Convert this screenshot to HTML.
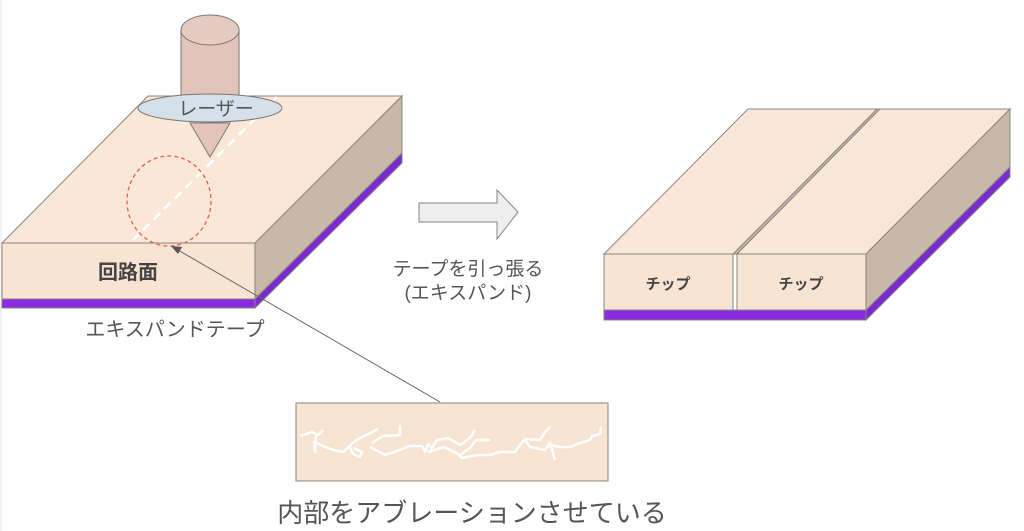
<!DOCTYPE html>
<html><head><meta charset="utf-8"><style>
html,body{margin:0;padding:0;background:#fff;}
svg{display:block;}
text{font-family:"Liberation Sans","Noto Sans CJK JP",sans-serif;}
</style></head><body>
<svg width="1024" height="531" viewBox="0 0 1024 531" xmlns="http://www.w3.org/2000/svg">
<line x1="1" y1="0" x2="1" y2="531" stroke="#e6e6e6" stroke-width="1"/>
<g stroke="#8a8480" stroke-width="1">
<polygon points="2,243 255,243 402,96 148,96" fill="#f9e8d8"/>
<polygon points="255,243 402,96 402,153 255,299" fill="#c8b8a8"/>
<rect x="2" y="243" width="253" height="56" fill="#f7e4d2"/>
<polygon points="255,299 402,153 402,163 255,308" fill="#7a2ad0"/>
<rect x="2" y="299" width="253" height="9" fill="#8a2be2"/>
</g>
<line x1="277" y1="97" x2="133" y2="240" stroke="#fff" stroke-width="2.5" stroke-dasharray="9,6"/>
<ellipse cx="169" cy="201" rx="42" ry="45" fill="none" stroke="#e8604a" stroke-width="1.3" stroke-dasharray="4,3"/>
<g stroke="#7f7672" stroke-width="1">
<path d="M181,30 L181,96 L239,96 L239,30" fill="#e2c4ba"/>
<ellipse cx="210" cy="30" rx="29" ry="15" fill="#e6cbc2"/>
<ellipse cx="210" cy="108" rx="72" ry="14" fill="#d4e0ea"/>
<polygon points="190,123 230,123 210,157" fill="#e2c4ba"/>
</g>
<text x="216" y="115" font-size="19" fill="#555" text-anchor="middle">レーザー</text>
<text x="128" y="279" font-size="20" font-weight="bold" fill="#444" text-anchor="middle">回路面</text>
<text x="175" y="336" font-size="20" fill="#555" text-anchor="middle">エキスパンドテープ</text>
<line x1="440" y1="402" x2="178" y2="250" stroke="#666" stroke-width="1"/>
<polygon points="171,246 182,247 178,254" fill="#555"/>
<polygon points="419,203 497,203 497,190 518,212 497,239 497,222 419,222" fill="#eeeeee" stroke="#8a8480" stroke-width="1"/>
<text x="468" y="275" font-size="19" fill="#555" text-anchor="middle">テープを引っ張る</text>
<text x="468" y="299" font-size="19" fill="#555" text-anchor="middle">(エキスパンド)</text>
<g stroke="#8a8480" stroke-width="1">
<polygon points="866,310 1010,167 1010,177 866,320" fill="#7a2ad0"/>
<rect x="604" y="310" width="262" height="10" fill="#8a2be2"/>
<polygon points="733,254 877,109 880,109 737,254" fill="#c8b8a8"/>
<polygon points="604,254 733,254 877,109 748,109" fill="#f9e8d8"/>
<rect x="604" y="254" width="129" height="56" fill="#f7e4d2"/>
<polygon points="737,254 866,254 1010,109 880,109" fill="#f9e8d8"/>
<polygon points="866,254 1010,109 1010,167 866,310" fill="#c8b8a8"/>
<rect x="737" y="254" width="129" height="56" fill="#f7e4d2"/>
</g>
<text x="668" y="289" font-size="15" font-weight="bold" fill="#444" text-anchor="middle">チップ</text>
<text x="801" y="289" font-size="15" font-weight="bold" fill="#444" text-anchor="middle">チップ</text>
<rect x="296" y="403" width="312" height="78" fill="#f7e4d2" stroke="#8a8480" stroke-width="1"/>
<g fill="none" stroke="#fff" stroke-width="2.5" stroke-linejoin="round">
<polyline points="300,436 312,432 318,435 323,430"/>
<polyline points="316,436 315,452 314,442 330,449 343,452 355,441 370,433 378,429"/>
<polyline points="350,447 353,454 360,457 362,452 354,448"/>
<polyline points="372,443 383,436 400,435 400,425"/>
<polyline points="370,447 385,455 397,451 410,446 422,446 425,452 428,444 432,448 437,440 448,438 460,445 470,438 475,430"/>
<polyline points="428,452 444,447 458,454 462,458 478,455 490,455 500,452 515,452 520,445 525,439 540,440 545,432 550,427"/>
<polyline points="460,455 470,448 476,440 490,440"/>
<polyline points="525,440 530,447 545,450 550,443 553,453 555,460"/>
<polyline points="550,445 560,447 570,447 580,443 590,440 592,436 600,434 601,427"/>
</g>
<text x="472" y="522" font-size="26" fill="#555" text-anchor="middle">内部をアブレーションさせている</text>
</svg>
</body></html>
